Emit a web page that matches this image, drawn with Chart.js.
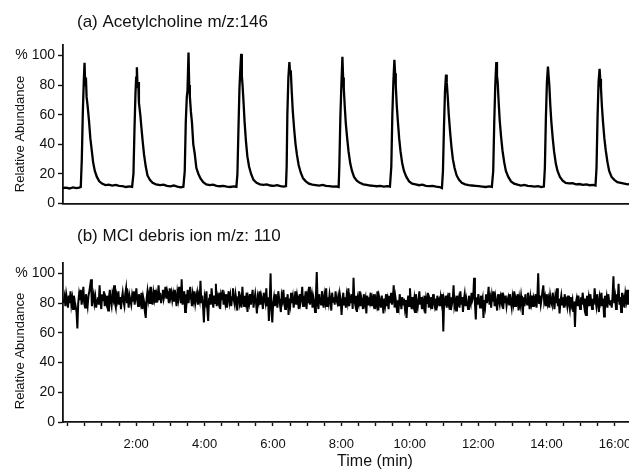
<!DOCTYPE html>
<html>
<head>
<meta charset="utf-8">
<script src="https://cdn.jsdelivr.net/npm/chart.js@4.4.0/dist/chart.umd.min.js"></script>
<style>
  html, body { margin: 0; padding: 0; background: #fff; }
  .panel { position: absolute; left: 0; }
  #top { top: 0; }
  #bottom { top: 215px; }
</style>
</head>
<body>
<div class="panel" id="top"><canvas id="achChart" width="629" height="215"></canvas></div>
<div class="panel" id="bottom"><canvas id="debrisChart" width="629" height="255"></canvas></div>
<script>
// time axis (min) shared by both panels
const timeMin = -0.14;
const timeMax = 16.41;
const yTicks = [0, 20, 40, 60, 80, 100];

// (a) acetylcholine m/z 146: one line per pulse
const achTime = [
  -0.14, -0.05, 0.05, 0.15, 0.25, 0.33, 0.38,
  0.41, 0.44, 0.47, 0.49, 0.51, 0.53, 0.55, 0.58, 0.62, 0.66, 0.70, 0.74, 0.79, 0.85, 0.92, 1.00, 1.10, 1.20, 1.30, 1.40, 1.50, 1.60, 1.70, 1.80, 1.88,
  1.92, 1.95, 1.98, 2.00, 2.02, 2.04, 2.06, 2.08, 2.12, 2.15, 2.19, 2.23, 2.28, 2.33, 2.40, 2.48, 2.58, 2.70, 2.80, 2.90, 3.00, 3.10, 3.20, 3.30, 3.38,
  3.42, 3.45, 3.48, 3.50, 3.53, 3.55, 3.57, 3.60, 3.63, 3.67, 3.71, 3.76, 3.82, 3.88, 3.96, 4.05, 4.15, 4.25, 4.35, 4.45, 4.55, 4.65, 4.75, 4.85, 4.93,
  4.96, 4.99, 5.02, 5.04, 5.07, 5.09, 5.11, 5.14, 5.17, 5.21, 5.25, 5.30, 5.36, 5.43, 5.52, 5.62, 5.72, 5.82, 5.92, 6.02, 6.12, 6.22, 6.32, 6.38,
  6.40, 6.42, 6.45, 6.48, 6.50, 6.52, 6.55, 6.58, 6.62, 6.66, 6.70, 6.75, 6.81, 6.88, 6.96, 7.05, 7.15, 7.25, 7.35, 7.45, 7.55, 7.65, 7.75, 7.85, 7.92,
  7.94, 7.97, 8.00, 8.03, 8.05, 8.07, 8.10, 8.13, 8.17, 8.21, 8.26, 8.31, 8.37, 8.45, 8.54, 8.64, 8.74, 8.84, 8.94, 9.04, 9.14, 9.24, 9.34, 9.42,
  9.46, 9.49, 9.52, 9.55, 9.57, 9.59, 9.62, 9.65, 9.69, 9.73, 9.78, 9.83, 9.90, 9.98, 10.07, 10.17, 10.27, 10.37, 10.47, 10.57, 10.67, 10.77, 10.87, 10.94,
  10.97, 11.00, 11.03, 11.06, 11.08, 11.11, 11.14, 11.18, 11.22, 11.26, 11.31, 11.37, 11.44, 11.52, 11.62, 11.72, 11.82, 11.92, 12.02, 12.12, 12.22, 12.32, 12.40,
  12.44, 12.47, 12.50, 12.53, 12.55, 12.57, 12.60, 12.63, 12.67, 12.71, 12.76, 12.81, 12.88, 12.96, 13.05, 13.15, 13.25, 13.35, 13.45, 13.55, 13.65, 13.75, 13.85, 13.92,
  13.95, 13.98, 14.01, 14.04, 14.06, 14.08, 14.11, 14.14, 14.18, 14.22, 14.27, 14.32, 14.39, 14.47, 14.56, 14.66, 14.76, 14.86, 14.96, 15.06, 15.16, 15.26, 15.36, 15.43,
  15.46, 15.49, 15.52, 15.55, 15.57, 15.59, 15.62, 15.65, 15.69, 15.73, 15.78, 15.83, 15.90, 15.98, 16.07, 16.17, 16.27, 16.37, 16.42
];
const achValue = [
  10.5, 10.8, 10.2, 10.9, 10.4, 10.8, 11.2,
  30, 62, 84, 95, 80, 85, 72, 66, 56, 44, 36, 28, 22, 18, 15, 13.5, 12.5, 12.8, 12.2, 12.6, 12, 11.8, 11.2, 11.6, 11.3,
  20, 50, 75, 85, 92, 78, 82, 68, 60, 52, 42, 33, 25, 19, 16, 14, 13, 12.5, 12.8, 12, 11.6, 12.2, 11.5, 11, 11.4,
  22, 55, 72, 76, 102, 80, 72, 62, 55, 40, 34, 24, 20, 17, 14.5, 13, 12.5, 12.8, 12, 11.7, 12, 11.5, 11.2, 11.6, 11.3,
  20, 50, 78, 88, 101, 86, 80, 68, 55, 42, 32, 25, 20, 16, 14, 13, 12.6, 13, 12.2, 12, 12.4, 11.8, 11.5, 11.8,
  25, 60, 85, 95.5, 88, 90, 75, 62, 50, 40, 33, 26, 21, 17, 15, 13.5, 12.8, 12.5, 12.2, 12.6, 11.9, 11.8, 11.4, 11.6, 11.2,
  25, 58, 80, 99, 85, 78, 65, 54, 44, 35, 27, 22, 18, 15.5, 14, 13, 12.6, 12.2, 12, 11.7, 12, 11.5, 11.8, 11.4,
  25, 60, 82, 97, 88, 80, 66, 56, 44, 35, 27, 22, 18, 15, 13.5, 13, 12.4, 12.8, 12, 11.8, 12, 11.5, 11.2, 10.5,
  22, 52, 76, 87, 82, 72, 60, 48, 38, 30, 24, 19, 16, 14, 13, 12.4, 12.2, 12, 11.8, 11.5, 11.2, 11.6, 11.3,
  22, 55, 80, 95.5, 86, 82, 68, 56, 45, 36, 28, 22, 18, 15, 13.5, 12.8, 12.2, 12.6, 12, 11.8, 11.4, 11.8, 11.2, 11.5,
  24, 58, 82, 92.5, 86, 80, 66, 55, 44, 35, 27, 22, 18, 15.5, 14, 13.6, 13.8, 13, 13.2, 12.6, 13, 12.4, 12.6, 12.2,
  24, 58, 82, 91, 84, 78, 65, 55, 44, 36, 28, 22, 18, 16, 14.5, 14, 13.5, 13, 13.2
];

// (b) MCI debris ion m/z 110, one scan every 0.025 min, two lines per minute
const debrisStart = -0.12;
const debrisStep = 0.025;
const debrisValue = [
  80, 84, 78, 86, 82, 77, 85, 80, 88, 79, 83, 76, 85, 81, 78, 74, 63, 80, 86, 82,
  89, 79, 84, 91, 80, 77, 86, 82, 78, 85, 88, 92, 96, 78, 83, 86, 80, 84, 77, 82,
  84, 79, 92, 81, 76, 86, 82, 88, 78, 83, 80, 85, 75, 84, 89, 81, 78, 86, 83, 92,
  80, 77, 85, 82, 88, 79, 84, 76, 83, 87, 81, 78, 86, 90, 80, 84, 77, 85, 82, 79,
  85, 81, 88, 79, 84, 90, 82, 78, 86, 83, 80, 87, 76, 84, 81, 74, 70, 83, 88, 82,
  86, 80, 91, 84, 79, 87, 83, 89, 81, 86, 84, 92, 82, 87, 80, 85, 89, 83, 86, 91,
  83, 88, 85, 80, 90, 84, 87, 82, 86, 81, 89, 84, 78, 87, 83, 91, 85, 80, 96, 79,
  84, 88, 74, 86, 82, 89, 80, 85, 91, 83, 78, 86, 82, 88, 80, 84, 87, 79, 85, 82,
  95, 80, 85, 78, 67, 84, 81, 88, 76, 68, 83, 86, 79, 90, 82, 77, 85, 80, 93, 78,
  84, 81, 87, 76, 85, 82, 89, 79, 84, 80, 86, 77, 83, 88, 81, 85, 78, 84, 90, 82,
  79, 86, 82, 75, 84, 88, 80, 83, 77, 91, 82, 78, 85, 81, 87, 74, 83, 80, 86, 79,
  84, 89, 77, 82, 86, 80, 73, 84, 81, 88, 79, 85, 82, 76, 87, 83, 80, 90, 78, 84,
  68, 82, 100, 75, 67, 80, 84, 78, 86, 81, 77, 88, 83, 79, 74, 85, 82, 89, 80, 76,
  84, 81, 86, 72, 83, 79, 87, 80, 84, 77, 82, 88, 79, 85, 81, 76, 86, 80, 83, 91,
  78, 85, 82, 88, 76, 84, 80, 91, 79, 83, 86, 77, 84, 81, 74, 85, 101, 80, 76, 86,
  82, 79, 88, 83, 77, 85, 81, 90, 78, 84, 80, 86, 82, 75, 87, 81, 84, 79, 88, 82,
  80, 84, 78, 86, 82, 72, 81, 87, 79, 84, 77, 85, 81, 90, 78, 83, 80, 86, 76, 97,
  82, 79, 85, 74, 83, 80, 88, 78, 84, 81, 76, 86, 80, 83, 73, 85, 79, 84, 81, 87,
  78, 83, 80, 86, 76, 82, 79, 88, 75, 84, 81, 77, 85, 80, 73, 83, 79, 86, 78, 82,
  76, 85, 80, 87, 79, 83, 92, 77, 84, 80, 74, 82, 78, 86, 81, 76, 84, 79, 83, 77,
  82, 70, 80, 85, 78, 90, 81, 76, 84, 79, 83, 74, 86, 80, 77, 82, 88, 79, 84, 76,
  81, 78, 85, 73, 83, 80, 87, 77, 82, 79, 84, 76, 86, 81, 78, 83, 75, 85, 80, 82,
  78, 84, 80, 86, 61, 82, 79, 85, 77, 83, 80, 87, 76, 84, 79, 82, 92, 78, 81, 75,
  85, 80, 83, 77, 88, 79, 84, 74, 82, 86, 78, 83, 80, 76, 85, 81, 79, 87, 82, 84,
  97, 80, 69, 84, 79, 86, 81, 77, 85, 80, 83, 70, 82, 78, 86, 80, 84, 91, 79, 83,
  77, 85, 81, 88, 78, 84, 80, 75, 86, 82, 79, 84, 81, 87, 76, 83, 80, 85, 78, 82,
  84, 79, 86, 81, 77, 84, 80, 88, 78, 83, 81, 86, 75, 83, 79, 85, 80, 72, 84, 78,
  86, 81, 79, 87, 82, 76, 84, 80, 85, 78, 83, 81, 86, 77, 84, 100, 80, 85, 79, 83,
  88, 92, 81, 84, 78, 86, 80, 83, 77, 85, 81, 79, 87, 82, 76, 84, 80, 90, 78, 83,
  73, 81, 85, 79, 84, 77, 86, 80, 82, 78, 85, 80, 76, 84, 79, 82, 74, 81, 64, 80,
  83, 78, 85, 80, 76, 84, 79, 87, 81, 77, 83, 72, 85, 80, 84, 78, 86, 81, 76, 83,
  79, 90, 82, 78, 86, 80, 74, 84, 81, 87, 78, 83, 71, 85, 80, 84, 77, 86, 81, 79,
  82, 77, 85, 98, 80, 84, 76, 86, 81, 93, 79, 84, 74, 87, 80, 83, 77, 86, 82, 89,
  79, 84, 81
];

const FONT = '"Liberation Sans", Arial, Helvetica, sans-serif';
const INK = '#111';

// panel title, rotated y label and (optional) x label drawn at fixed spots
const panelText = {
  id: 'panelText',
  afterDraw(chart, args, opts) {
    const ctx = chart.ctx;
    ctx.save();
    ctx.fillStyle = INK;
    ctx.textBaseline = 'middle';
    ctx.textAlign = 'left';
    ctx.font = '17px ' + FONT;
    ctx.fillText(opts.title, opts.titleX, opts.titleY);
    if (opts.xLabel) {
      ctx.textAlign = 'center';
      ctx.font = '16px ' + FONT;
      ctx.fillText(opts.xLabel, opts.xLabelX, opts.xLabelY);
    }
    ctx.translate(opts.yLabelX, opts.yLabelY);
    ctx.rotate(-Math.PI / 2);
    ctx.textAlign = 'center';
    ctx.font = '13px ' + FONT;
    ctx.fillText(opts.yLabel, 0, 0);
    ctx.restore();
  }
};

function timeAxis(showTicks, height) {
  return {
    type: 'linear',
    min: timeMin,
    max: timeMax,
    afterFit: s => { s.height = height; s.paddingLeft = 0; s.paddingRight = 0; },
    border: { color: INK, width: 1.8 },
    grid: { drawOnChartArea: false, drawTicks: showTicks, tickLength: 4, tickWidth: 1.4, color: INK },
    ticks: {
      display: showTicks,
      stepSize: 0.5,
      maxTicksLimit: 40,
      includeBounds: false,
      autoSkip: false,
      maxRotation: 0,
      padding: 11,
      color: INK,
      font: { family: FONT, size: 13 },
      callback: v => (v > 0 && v % 2 === 0) ? v + ':00' : ''
    }
  };
}

function abundanceAxis() {
  return {
    min: 0,
    max: 107,
    afterFit: s => { s.width = 63; },
    border: { color: INK, width: 1.8 },
    grid: { drawOnChartArea: false, tickLength: 5, tickWidth: 1.4, color: INK },
    ticks: {
      stepSize: 20,
      includeBounds: false,
      padding: 3,
      color: INK,
      font: { family: FONT, size: 14 },
      callback: v => yTicks.includes(v) ? (v === 100 ? '% 100' : String(v)) : ''
    }
  };
}

new Chart(document.getElementById('achChart'), {
  type: 'line',
  data: {
    datasets: [{
      data: achTime.map((t, i) => ({ x: t, y: achValue[i] })),
      borderColor: '#000',
      borderWidth: 2.3,
      pointRadius: 0,
      tension: 0
    }]
  },
  options: {
    responsive: false,
    animation: false,
    layout: { padding: { top: 45, left: 0, right: 0, bottom: 0 } },
    scales: { x: timeAxis(false, 11), y: abundanceAxis() },
    plugins: {
      legend: { display: false },
      tooltip: { enabled: false },
      panelText: {
        title: '(a) Acetylcholine m/z:146', titleX: 77, titleY: 22,
        yLabel: 'Relative Abundance', yLabelX: 20, yLabelY: 134
      }
    }
  },
  plugins: [panelText]
});

new Chart(document.getElementById('debrisChart'), {
  type: 'line',
  data: {
    datasets: [{
      data: debrisValue.map((v, i) => ({ x: debrisStart + i * debrisStep, y: v })),
      borderColor: '#000',
      borderWidth: 2,
      pointRadius: 0,
      tension: 0
    }]
  },
  options: {
    responsive: false,
    animation: false,
    layout: { padding: { top: 48, left: 0, right: 0, bottom: 0 } },
    scales: { x: timeAxis(true, 48), y: abundanceAxis() },
    plugins: {
      legend: { display: false },
      tooltip: { enabled: false },
      panelText: {
        title: '(b) MCI debris ion m/z: 110', titleX: 77, titleY: 21,
        yLabel: 'Relative Abundance', yLabelX: 20, yLabelY: 136,
        xLabel: 'Time (min)', xLabelX: 375, xLabelY: 247
      }
    }
  },
  plugins: [panelText]
});
</script>
</body>
</html>
